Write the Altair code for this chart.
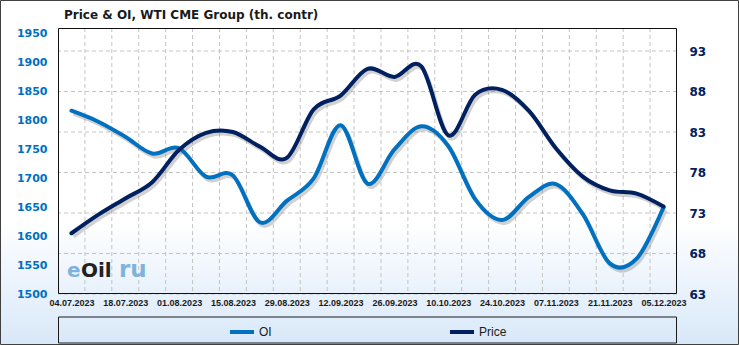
import altair as alt
import pandas as pd

# ---------------- data ----------------
DATES = ["04.07.2023", "11.07.2023", "18.07.2023", "25.07.2023", "01.08.2023",
         "08.08.2023", "15.08.2023", "22.08.2023", "29.08.2023", "05.09.2023",
         "12.09.2023", "19.09.2023", "26.09.2023", "03.10.2023", "10.10.2023",
         "17.10.2023", "24.10.2023", "31.10.2023", "07.11.2023", "14.11.2023",
         "21.11.2023", "28.11.2023", "05.12.2023"]
OI = [1817, 1798, 1772, 1743, 1752, 1703, 1705, 1624, 1661, 1700, 1792, 1691,
      1750, 1790, 1756, 1664, 1628, 1668, 1690, 1638, 1553, 1561, 1650]
PRICE = [70.5, 72.8, 74.8, 76.8, 80.8, 82.9, 83.0, 81.2, 79.8, 85.8, 87.5, 90.8,
         89.8, 91.1, 82.6, 87.6, 88.2, 85.6, 81.0, 77.5, 75.8, 75.4, 73.8]
SERIES = ["OI", "Price"]
OI_TICKS = [1500, 1550, 1600, 1650, 1700, 1750, 1800, 1850, 1900, 1950]
PRICE_TICKS = [63, 68, 73, 78, 83, 88, 93]
TITLE = "Price & OI, WTI CME Group (th. contr)"

# ---------------- layout / style ----------------
W, H = 619, 266
PAD = {"left": 58, "top": 28, "right": 62, "bottom": 51}
C_OI = "#0070C0"
C_PRICE = "#002060"

n = len(DATES)
df = pd.DataFrame({
    "idx": list(range(n)) * 2,
    "series": [SERIES[0]] * n + [SERIES[1]] * n,
    "value": OI + PRICE,
})
df_oi = df[df.series == "OI"]
df_pr = df[df.series == "Price"]
grid_x = pd.DataFrame({"idx": [i + 0.5 for i in range(n - 1)]})
grid_y = pd.DataFrame({"t": PRICE_TICKS})

x_scale = alt.Scale(domain=[-0.5, n - 0.5], nice=False, zero=False)
oi_scale = alt.Scale(domain=[1500, 1960], nice=False, zero=False)
pr_scale = alt.Scale(domain=[63, 95.84], nice=False, zero=False)

label_expr = "split('" + ",".join(DATES) + "', ',')[round(datum.value)]"
x_axis = alt.Axis(values=list(range(0, n, 2)), labelExpr=label_expr, grid=False,
                  ticks=False, domain=False, title=None, labelAngle=0,
                  labelFont="Liberation Sans", labelFontWeight="bold",
                  labelFontSize=9, labelColor="#1a1a1a", labelPadding=4,
                  labelOverlap=False, labelFlush=False, zindex=2)
X = alt.X("idx:Q", scale=x_scale, axis=x_axis)

color = alt.Color("series:N",
                  scale=alt.Scale(domain=SERIES, range=[C_OI, C_PRICE]),
                  legend=alt.Legend(orient="none", legendX=170, legendY=290,
                                    direction="horizontal", title=None,
                                    symbolType="stroke", symbolSize=576,
                                    symbolStrokeWidth=4, labelOffset=3,
                                    labelFont="Liberation Sans", labelFontSize=12,
                                    labelColor="#1a1a1a", columnPadding=170,
                                    padding=0, zindex=2))

one = alt.Data(values=[{}])

background = alt.Chart(one).mark_rect(
    fill=alt.Gradient(gradient="linear",
                      stops=[alt.GradientStop(offset=0, color="#ffffff"),
                             alt.GradientStop(offset=0.64, color="#ffffff"),
                             alt.GradientStop(offset=1, color="#D8E8F9")],
                      x1=0, x2=0, y1=0, y2=1),
    stroke="#404040", strokeWidth=1
).encode(x=alt.value(-57.5), x2=alt.value(W + PAD["right"] - 0.5),
         y=alt.value(-27.5), y2=alt.value(H + PAD["bottom"] - 0.5))

vgrid = alt.Chart(grid_x).mark_rule(color="#c4c4c4", strokeDash=[4, 3], strokeWidth=1).encode(
    x=X)
hgrid = alt.Chart(grid_y).mark_rule(color="#c4c4c4", strokeDash=[4, 3], strokeWidth=1).encode(
    y=alt.Y("t:Q", scale=pr_scale, axis=None))

line_kw = dict(interpolate="cardinal", strokeWidth=4, strokeCap="round", strokeJoin="round")
shadow_kw = dict(interpolate="cardinal", strokeWidth=4, color="#7a7a7a", opacity=0.35,
                 xOffset=2, yOffset=3)

oi_shadow = alt.Chart(df_oi).mark_line(**shadow_kw).encode(
    x=X, y=alt.Y("value:Q", scale=oi_scale, axis=None))
pr_shadow = alt.Chart(df_pr).mark_line(**shadow_kw).encode(
    x=X, y=alt.Y("value:Q", scale=pr_scale, axis=None))

oi_line = alt.Chart(df_oi).mark_line(**line_kw).encode(
    x=X,
    y=alt.Y("value:Q", scale=oi_scale,
            axis=alt.Axis(orient="left", values=OI_TICKS, format="d", grid=False,
                          ticks=False, domain=False, title=None, labelFont="DejaVu Sans",
                          labelFontWeight="bold", labelFontSize=11, labelColor=C_OI,
                          labelPadding=11, labelOverlap=False, zindex=2)),
    color=color)
pr_line = alt.Chart(df_pr).mark_line(**line_kw).encode(
    x=X,
    y=alt.Y("value:Q", scale=pr_scale,
            axis=alt.Axis(orient="right", values=PRICE_TICKS, format="d", grid=False,
                          ticks=False, domain=False, title=None, labelFont="DejaVu Sans",
                          labelFontWeight="bold", labelFontSize=12, labelColor=C_PRICE,
                          labelPadding=12, labelOverlap=False, zindex=2)),
    color=color)

frame = alt.Chart(one).mark_rect(fillOpacity=0, stroke="#111111", strokeWidth=1).encode(
    x=alt.value(0.5), x2=alt.value(W - 0.5), y=alt.value(0.5), y2=alt.value(H - 0.5))
legend_box = alt.Chart(one).mark_rect(fillOpacity=0, stroke="#1a1a1a", strokeWidth=1).encode(
    x=alt.value(0.5), x2=alt.value(W - 0.5), y=alt.value(289), y2=alt.value(315))

title = alt.Chart(one).mark_text(
    text=TITLE, font="DejaVu Sans", fontSize=12, fontWeight="bold", color="#1a1a1a",
    align="left", baseline="alphabetic").encode(x=alt.value(6), y=alt.value(-9))

wm_kw = dict(font="DejaVu Sans", fontWeight="bold", align="left", baseline="alphabetic")
wm_e = alt.Chart(one).mark_text(text="e", color="#7FB3DE", fontSize=20, **wm_kw).encode(
    x=alt.value(9), y=alt.value(249))
wm_oil = alt.Chart(one).mark_text(text="Oil", color="#222222", fontSize=20, **wm_kw).encode(
    x=alt.value(23), y=alt.value(249))
wm_ru = alt.Chart(one).mark_text(text="ru", color="#7FB3DE", fontSize=23, **wm_kw).encode(
    x=alt.value(61), y=alt.value(249))

chart = alt.layer(
    background, vgrid, hgrid, wm_e, wm_oil, wm_ru, oi_shadow, pr_shadow,
    oi_line, pr_line, frame, legend_box, title
).resolve_scale(y="independent").properties(
    width=W, height=H, padding=PAD, autosize=alt.AutoSizeParams(type="none")
).configure_view(strokeWidth=0)

chart.save("out.html", embed_options={"renderer": "svg", "actions": False})
